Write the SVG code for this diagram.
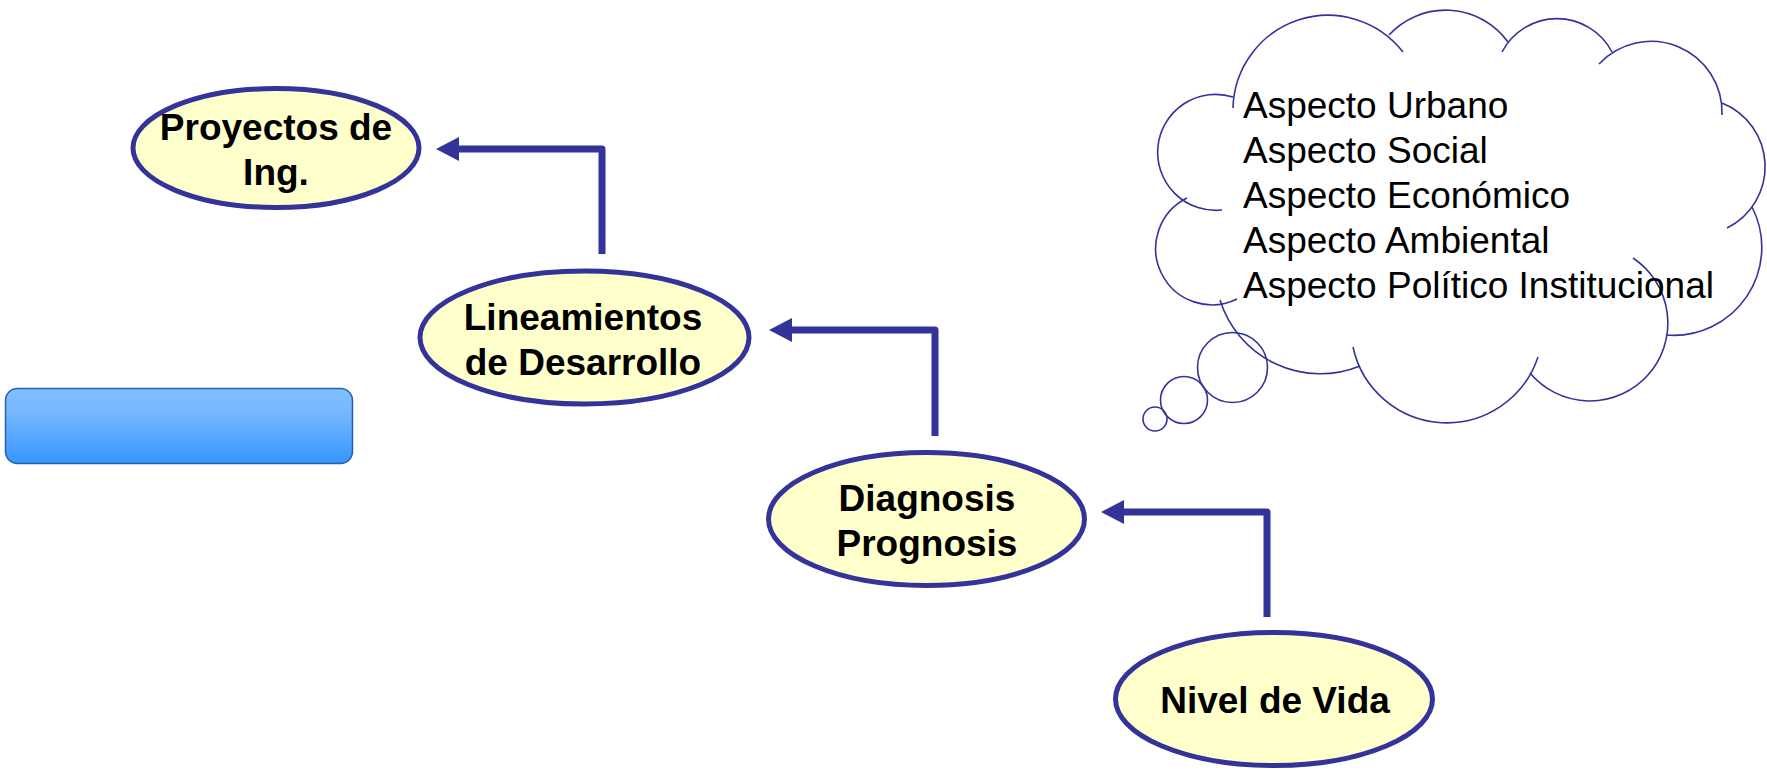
<svg xmlns="http://www.w3.org/2000/svg" width="1767" height="771" viewBox="0 0 1767 771">
<style>
.node ellipse{fill:#ffffcc;stroke:#333399;stroke-width:5}
.lbl{font-family:"Liberation Sans",Arial,sans-serif;font-weight:bold;font-size:37px;fill:#000;text-anchor:middle}
.conn{fill:none;stroke:#333399;stroke-width:7;stroke-linejoin:round;marker-end:url(#ah)}
.cloud{fill:none;stroke:#333399;stroke-width:1.6}
.ctext{font-family:"Liberation Sans",Arial,sans-serif;font-size:37px;fill:#000}
</style>
<defs>
<marker id="ah" viewBox="0 0 23 24" refX="0" refY="12" markerWidth="23" markerHeight="24" markerUnits="userSpaceOnUse" orient="auto">
<polygon points="0,0 23,12 0,24" fill="#333399"/>
</marker>
<linearGradient id="bg" x1="0" y1="0" x2="0" y2="1">
<stop offset="0" stop-color="#80bfff"/>
<stop offset="0.35" stop-color="#74b6ff"/>
<stop offset="1" stop-color="#3396ff"/>
</linearGradient>
</defs>
<rect width="1767" height="771" fill="#fff"/>
<g id="connectors">
<path class="conn" d="M602 254 V149 H459"/>
<path class="conn" d="M935 436 V330 H792"/>
<path class="conn" d="M1267 617 V512 H1124"/>
</g>
<g id="node-proyectos" class="node">
<ellipse cx="276" cy="148" rx="143" ry="59.5"/>
<text class="lbl" x="276" y="140">Proyectos de</text>
<text class="lbl" x="276" y="185">Ing.</text>
</g>
<g id="node-lineamientos" class="node">
<ellipse cx="584.5" cy="337.5" rx="164.5" ry="66.5"/>
<text class="lbl" x="583" y="330">Lineamientos</text>
<text class="lbl" x="583" y="375">de Desarrollo</text>
</g>
<g id="node-diagnosis" class="node">
<ellipse cx="926.5" cy="519" rx="158" ry="66.5"/>
<text class="lbl" x="927" y="511">Diagnosis</text>
<text class="lbl" x="927" y="556">Prognosis</text>
</g>
<g id="node-nivel" class="node">
<ellipse cx="1274" cy="699" rx="158.5" ry="66.5"/>
<text class="lbl" x="1275" y="713">Nivel de Vida</text>
</g>
<g id="blue-box">
<rect x="5.5" y="388.5" width="347" height="75" rx="12" ry="12" fill="url(#bg)" stroke="#2a5db0" stroke-width="1.5"/>
</g>
<g id="cloud">
<path class="cloud" d="M1233 108 A95 95 0 0 1 1403 52"/>
<path class="cloud" d="M1389 35 A77 77 0 0 1 1508 42"/>
<path class="cloud" d="M1502 52 A62 62 0 0 1 1612 52"/>
<path class="cloud" d="M1599 64 A71 71 0 0 1 1722 115"/>
<path class="cloud" d="M1722 103 A68.5 68.5 0 0 1 1727 228"/>
<path class="cloud" d="M1752 207 A88 88 0 0 1 1666 335"/>
<path class="cloud" d="M1633 258 A78 78 0 1 1 1530 373"/>
<path class="cloud" d="M1538 357 A96 96 0 0 1 1353 347"/>
<path class="cloud" d="M1360 366 A105 105 0 0 1 1220 300"/>
<path class="cloud" d="M1187 198 A56 56 0 0 0 1237 299"/>
<path class="cloud" d="M1233 97 A58 58 0 1 0 1222 210"/>
<circle class="cloud" cx="1232.5" cy="367.5" r="35"/>
<circle class="cloud" cx="1184" cy="400" r="23.5"/>
<circle class="cloud" cx="1155" cy="419" r="12"/>
<text class="ctext" x="1243" y="118">Aspecto Urbano</text>
<text class="ctext" x="1243" y="163">Aspecto Social</text>
<text class="ctext" x="1243" y="208">Aspecto Económico</text>
<text class="ctext" x="1243" y="253">Aspecto Ambiental</text>
<text class="ctext" x="1243" y="298">Aspecto Político Institucional</text>
</g>
</svg>
